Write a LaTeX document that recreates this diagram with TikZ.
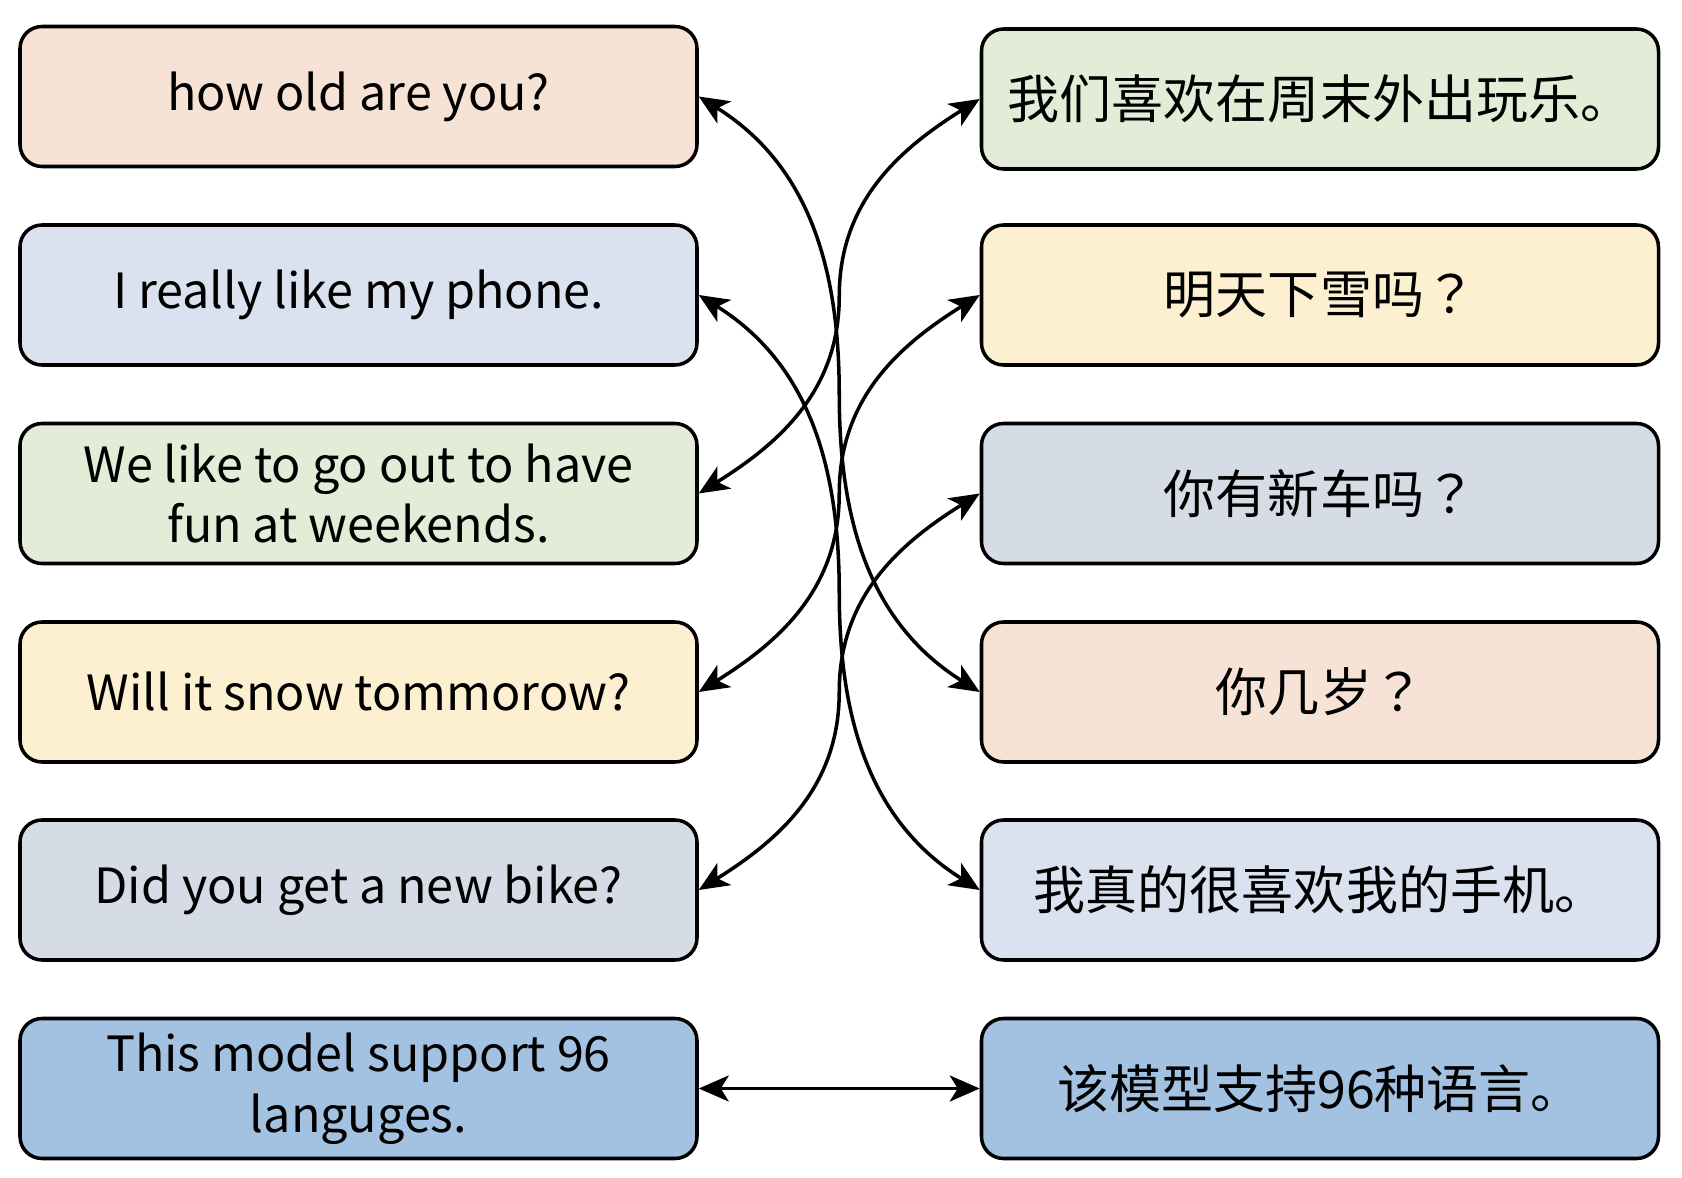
\documentclass[tikz,border=0pt]{standalone}
\usepackage{fontspec}
\setmainfont{Noto Sans CJK SC}
\newfontfamily\jpq{Noto Sans CJK JP}
\usetikzlibrary{arrows.meta,calc}

\definecolor{cpeach}{HTML}{F6E3D5}
\definecolor{clight}{HTML}{DAE1EF}
\definecolor{cgreen}{HTML}{E2ECD7}
\definecolor{cyellow}{HTML}{FDF0D1}
\definecolor{cgray}{HTML}{D6DCE5}
\definecolor{cdeep}{HTML}{A3C2E2}

\tikzset{
  sent/.style={draw=black, line width=1pt, rounded corners=0.22cm,
    minimum width=6.77cm, minimum height=1.4cm, inner sep=0pt, align=center},
  en/.style={sent, font=\fontsize{13.8}{17.3}\selectfont},
  zh/.style={sent, font=\fontsize{14.8}{17.3}\selectfont},
  link/.style={{Stealth[length=0.3cm,width=0.26cm,inset=0.08cm]}-{Stealth[length=0.3cm,width=0.26cm,inset=0.08cm]}, line width=1pt}
}

\begin{document}
\begin{tikzpicture}
    \useasboundingbox (0,0) rectangle (16.82,-11.78);
    % english side
    \node[en, fill=cpeach] (l1) at (3.585,-0.965) {how old are you?};
    \node[en, fill=clight] (l2) at (3.585,-2.95) {I really like my phone.};
    \node[en, fill=cgreen] (l3) at (3.585,-4.935) {We like to go out to have\\fun at weekends.};
    \node[en, fill=cyellow] (l4) at (3.585,-6.92) {Will it snow tommorow?};
    \node[en, fill=cgray] (l5) at (3.585,-8.9) {Did you get a new bike?};
    \node[en, fill=cdeep] (l6) at (3.585,-10.885) {This model support 96\\languges.};
    % chinese side
    \node[zh, fill=cgreen] (r1) at (13.2,-0.99) {我们喜欢在周末外出玩乐。};
    \node[zh, fill=cyellow] (r2) at (13.2,-2.95) {明天下雪吗{\jpq ？}};
    \node[zh, fill=cgray] (r3) at (13.2,-4.935) {你有新车吗{\jpq ？}};
    \node[zh, fill=cpeach] (r4) at (13.2,-6.92) {你几岁{\jpq ？}};
    \node[zh, fill=clight] (r5) at (13.2,-8.9) {我真的很喜欢我的手机。};
    \node[zh, fill=cdeep] (r6) at (13.2,-10.885) {该模型支持96种语言。};
    % links, bent through the middle of the gap
    \draw[link] (l1.east) to[out=-32,in=90] ($(l1.east)!.5!(r4.west)$) to[out=-90,in=148] (r4.west);
    \draw[link] (l2.east) to[out=-32,in=90] ($(l2.east)!.5!(r5.west)$) to[out=-90,in=148] (r5.west);
    \draw[link] (l3.east) to[out=32,in=-90] ($(l3.east)!.5!(r1.west)$) to[out=90,in=-148] (r1.west);
    \draw[link] (l4.east) to[out=32,in=-90] ($(l4.east)!.5!(r2.west)$) to[out=90,in=-148] (r2.west);
    \draw[link] (l5.east) to[out=32,in=-90] ($(l5.east)!.5!(r3.west)$) to[out=90,in=-148] (r3.west);
    \draw[link] (l6.east) -- (r6.west);
\end{tikzpicture}
\end{document}
